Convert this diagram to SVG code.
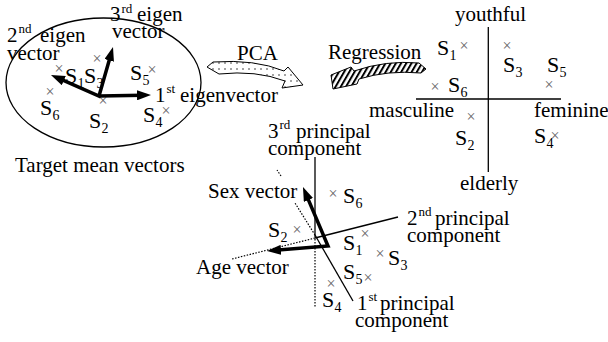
<svg xmlns="http://www.w3.org/2000/svg" width="608" height="342" viewBox="0 0 608 342">
<defs>
<style>
text{font-family:"Liberation Serif","Times New Roman",serif;font-size:21px;fill:#000}
.s{font-size:22px}
.sb{font-size:14px}
.sp{font-size:13px}
.x{font-size:16px;fill:#666;text-anchor:middle}
.thick{fill:none;stroke:#000;stroke-width:3.5}
.thin{fill:none;stroke:#000;stroke-width:1.3}
.dot{fill:none;stroke:#000;stroke-width:1.2;stroke-dasharray:1.5 1.5}
</style>
<marker id="ah" viewBox="0 0 14 10" refX="6" refY="5" markerWidth="14" markerHeight="10" markerUnits="userSpaceOnUse" orient="auto-start-reverse">
<path d="M0,0 L14,5 L0,10 Z" fill="#000"/>
</marker>
<pattern id="dots" width="6" height="6" patternUnits="userSpaceOnUse">
<rect width="6" height="6" fill="#fff"/>
<circle cx="3" cy="3" r="0.7" fill="#000"/>
</pattern>
<pattern id="hatch" width="4.5" height="4.5" patternUnits="userSpaceOnUse" patternTransform="rotate(30)">
<rect width="4.5" height="4.5" fill="#fff"/>
<line x1="1" y1="0" x2="1" y2="4.5" stroke="#000" stroke-width="2"/>
</pattern>
</defs>
<rect width="608" height="342" fill="#fff"/>

<g id="target-mean-vectors">
<ellipse cx="103.5" cy="82.5" rx="97.5" ry="64.5" class="thin" stroke-width="1"/>
<text x="7" y="42">2</text><text class="sp" x="18.5" y="33">nd</text><text x="40" y="42">eigen</text>
<text x="7" y="60">vector</text>
<text x="110" y="21">3</text><text class="sp" x="121.5" y="13">rd</text><text x="137" y="21">eigen</text>
<text x="112" y="38">vector</text>
<text x="155" y="102">1</text><text class="sp" x="166.5" y="93">st</text><text x="180" y="102">eigenvector</text>
<text class="x" x="59" y="74">×</text>
<text class="x" x="97" y="64">×</text>
<text class="x" x="152" y="75">×</text>
<text class="x" x="50" y="97">×</text>
<text class="x" x="103" y="106">×</text>
<text class="x" x="166" y="116">×</text>
<text class="s" x="65" y="83">S</text><text class="sb" x="77.5" y="88">1</text>
<text class="s" x="84" y="83">S</text><text class="sb" x="96.5" y="88">3</text>
<text class="s" x="130" y="80">S</text><text class="sb" x="142.5" y="85">5</text>
<text class="s" x="40" y="115">S</text><text class="sb" x="52.5" y="120">6</text>
<text class="s" x="89" y="128">S</text><text class="sb" x="101.5" y="133">2</text>
<text class="s" x="143" y="122">S</text><text class="sb" x="155.5" y="127">4</text>
<path class="thick" d="M58.3,78.2 L99,96 L110.8,54.7" marker-start="url(#ah)" marker-end="url(#ah)"/>
<path class="thick" d="M99,96 L143,95.2" marker-end="url(#ah)"/>
<text x="15" y="172">Target mean vectors</text>
</g>

<g id="pca">
<path d="M207,67 L213,62 Q255,59 284,71 L288,67 L303,85 L282,88 L285,81 Q256,70 219,74 Z" fill="url(#dots)" stroke="#000" stroke-width="1"/>
<text x="237" y="60">PCA</text>
</g>

<g id="regression">
<path d="M426,69 L419,63 Q386,60 354,71 L351,67 L331,75 L333,89 L357,84 L359,79 Q388,70 421,73 Z" fill="url(#hatch)" stroke="#000" stroke-width="1"/>
<text x="328" y="59">Regression</text>
</g>

<g id="impression-space">
<line class="thin" x1="488.3" y1="27" x2="488.3" y2="172" stroke-width="1.6"/>
<line class="thin" x1="416" y1="99" x2="561" y2="99" stroke-width="1.6"/>
<text x="455" y="21">youthful</text>
<text x="369" y="117">masculine</text>
<text x="534" y="117">feminine</text>
<text x="460" y="190">elderly</text>
<text class="x" x="464" y="51">×</text>
<text class="x" x="507" y="51">×</text>
<text class="x" x="549" y="90">×</text>
<text class="x" x="435" y="92">×</text>
<text class="x" x="471" y="122">×</text>
<text class="x" x="555" y="141">×</text>
<text class="s" x="437" y="55">S</text><text class="sb" x="449.5" y="60">1</text>
<text class="s" x="503" y="72">S</text><text class="sb" x="515.5" y="77">3</text>
<text class="s" x="547" y="72">S</text><text class="sb" x="559.5" y="77">5</text>
<text class="s" x="448" y="92">S</text><text class="sb" x="460.5" y="97">6</text>
<text class="s" x="455" y="145">S</text><text class="sb" x="467.5" y="150">2</text>
<text class="s" x="534" y="143">S</text><text class="sb" x="546.5" y="148">4</text>
</g>

<g id="connectors">
<line class="thin" x1="315" y1="157" x2="315" y2="236"/>
<line class="dot" x1="315" y1="236" x2="315" y2="307"/>
<line class="thin" x1="315" y1="238" x2="398" y2="217"/>
<line class="dot" x1="315" y1="238" x2="232" y2="259"/>
<line class="thin" x1="315" y1="235" x2="353" y2="301"/>
<line class="dot" x1="315" y1="235" x2="295" y2="203"/>
<line class="dot" x1="281" y1="176" x2="277" y2="170"/>
<path class="thick" stroke-width="4" d="M306.1,194.4 L328,246 L275,250.3" marker-start="url(#ah)" marker-end="url(#ah)"/>
</g>

<g id="pc-space">
<text x="268" y="138">3</text><text class="sp" x="279.5" y="129">rd</text><text x="296" y="138">principal</text>
<text x="268" y="155">component</text>
<text x="407" y="225">2</text><text class="sp" x="418.5" y="216">nd</text><text x="435" y="225">principal</text>
<text x="407" y="242">component</text>
<text x="357" y="310">1</text><text class="sp" x="368.5" y="301">st</text><text x="380" y="310">principal</text>
<text x="355" y="327">component</text>
<text x="208" y="198">Sex vector</text>
<text x="196" y="274">Age vector</text>
<text class="x" x="297" y="235">×</text>
<text class="x" x="333" y="199">×</text>
<text class="x" x="365" y="239">×</text>
<text class="x" x="380" y="259">×</text>
<text class="x" x="368" y="283">×</text>
<text class="x" x="331" y="289">×</text>
<text class="s" x="268" y="237">S</text><text class="sb" x="280.5" y="242">2</text>
<text class="s" x="343" y="203">S</text><text class="sb" x="355.5" y="208">6</text>
<text class="s" x="343" y="250">S</text><text class="sb" x="355.5" y="255">1</text>
<text class="s" x="388" y="265">S</text><text class="sb" x="400.5" y="270">3</text>
<text class="s" x="343" y="279">S</text><text class="sb" x="355.5" y="284">5</text>
<text class="s" x="322" y="307">S</text><text class="sb" x="334.5" y="312">4</text>
</g>
</svg>
